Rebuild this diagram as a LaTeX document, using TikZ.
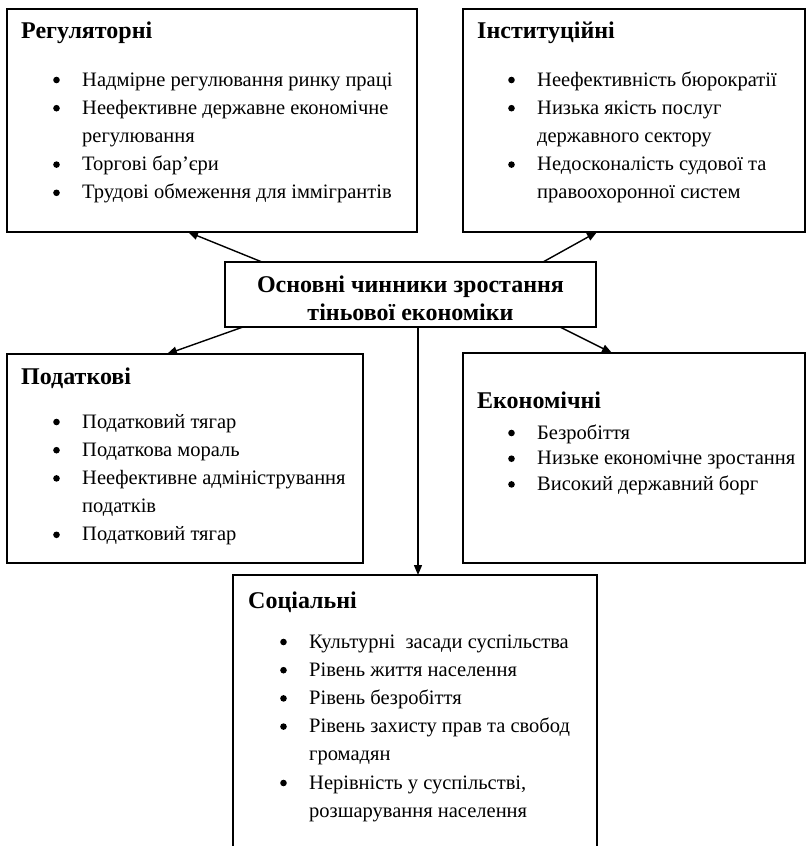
\documentclass[tikz,border=0pt]{standalone}
\usepackage{fontspec}
\setmainfont{Liberation Serif}
\usetikzlibrary{arrows.meta}
\newcommand{\bl}{\makebox[29pt][l]{\tikz[baseline=0pt]\fill (3.5pt,6pt) circle[radius=3.3pt];}}
\begin{document}
\begin{tikzpicture}[x=1pt,y=-1pt,
  box/.style={draw,line width=1.8pt,rectangle,inner sep=0pt,outer sep=0pt,anchor=north west},
  ttl/.style={anchor=base west,inner sep=0pt,font=\bfseries\fontsize{24}{28}\selectfont},
  lst/.style={anchor=base west,inner sep=0pt,font=\fontsize{20.5}{#1}\selectfont},
  lst/.default=28.2,
  ctr/.style={anchor=base,inner sep=0pt,font=\bfseries\fontsize{24}{29}\selectfont},
  arr/.style={line width=1.4pt,-{Triangle[length=10pt,width=8pt]}}]
\useasboundingbox (0,0) rectangle (806,846);

% boxes
\node[box,minimum width=410pt,minimum height=223pt] (reg) at (7,9) {};
\node[box,minimum width=342pt,minimum height=223pt] (inst) at (463,9) {};
\node[box,minimum width=371pt,minimum height=65pt] (c) at (225,262) {};
\node[box,minimum width=356pt,minimum height=209pt] (pod) at (7,354) {};
\node[box,minimum width=342pt,minimum height=210pt] (eco) at (463,353) {};
\node[box,minimum width=364pt,minimum height=290pt] (soc) at (233,575) {};

% centre text
\node[ctr] (c1) at (410.5,292) {Основні чинники зростання};
\node[ctr] (c2) at (410.5,320) {тіньової економіки};

% titles
\node[ttl] (regT) at (21,38) {Регуляторні};
\node[ttl] (instT) at (477,38) {Інституційні};
\node[ttl] (podT) at (21,384) {Податкові};
\node[ttl] (ecoT) at (477,408) {Економічні};
\node[ttl] (socT) at (248,608) {Соціальні};

% lists
\node[lst] (regL) at (53,86) {\begin{tabular}[t]{@{}l@{}l@{}}
\bl & Надмірне регулювання ринку праці\\
\bl & Неефективне державне економічне\\
    & регулювання\\
\bl & Торгові бар’єри\\
\bl & Трудові обмеження для іммігрантів
\end{tabular}};

\node[lst] (instL) at (508,86) {\begin{tabular}[t]{@{}l@{}l@{}}
\bl & Неефективність бюрократії\\
\bl & Низька якість послуг\\
    & державного сектору\\
\bl & Недосконалість судової та\\
    & правоохоронної систем
\end{tabular}};

\node[lst] (podL) at (53,428) {\begin{tabular}[t]{@{}l@{}l@{}}
\bl & Податковий тягар\\
\bl & Податкова мораль\\
\bl & Неефективне адміністрування\\
    & податків\\
\bl & Податковий тягар
\end{tabular}};

\node[lst=25.7] (ecoL) at (508,439) {\begin{tabular}[t]{@{}l@{}l@{}}
\bl & Безробіття\\
\bl & Низьке економічне зростання\\
\bl & Високий державний борг
\end{tabular}};

\node[lst] (socL) at (280,648) {\begin{tabular}[t]{@{}l@{}l@{}}
\bl & Культурні~ засади суспільства\\
\bl & Рівень життя населення\\
\bl & Рівень безробіття\\
\bl & Рівень захисту прав та свобод\\
    & громадян\\
\bl & Нерівність у суспільстві,\\
    & розшарування населення
\end{tabular}};

% arrows
\draw[arr] ([xshift=37pt]c.north west) -- ([xshift=181pt]reg.south west);
\draw[arr] ([xshift=-53pt]c.north east) -- ([xshift=134pt]inst.south west);
\draw[arr] ([xshift=18pt]c.south west) -- ([xshift=160pt]pod.north west);
\draw[arr] ([xshift=-36pt]c.south east) -- ([xshift=149pt]eco.north west);
\draw[arr] ([xshift=185pt]soc.north west |- c.south) -- ([xshift=185pt]soc.north west);
\end{tikzpicture}
\end{document}
